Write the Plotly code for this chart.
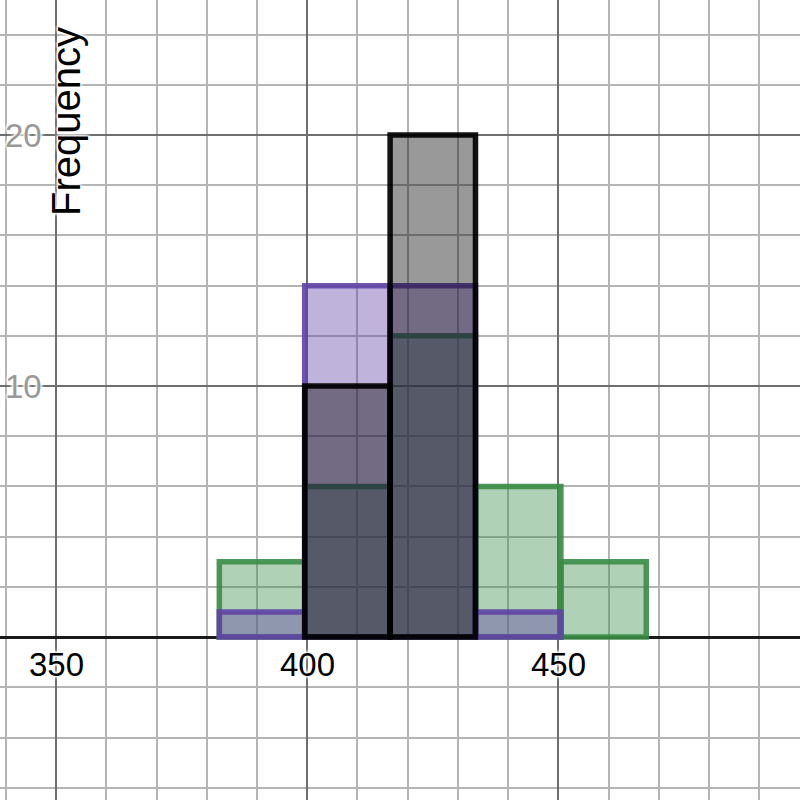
import plotly.graph_objects as go

# histogram bins (edges) shared by all three data sets
bin_edges = [382.5, 399.5, 416.5, 433.5, 450.5, 467.5]

# frequencies per bin, None = empty bin
green_counts = [3, 6, 12, 6, 3]
purple_counts = [1, 14, 14, 1, None]
black_counts = [None, 10, 20, None, None]

x_tick_vals = [350, 400, 450]
x_tick_text = ["350", "400", "450"]
y_tick_vals = [10, 20]
y_tick_text = ["10", "20"]

centers = [(a + b) / 2 for a, b in zip(bin_edges[:-1], bin_edges[1:])]
widths = [b - a for a, b in zip(bin_edges[:-1], bin_edges[1:])]

series = [
    (green_counts, "rgba(56,140,70,0.4)", "rgba(56,140,70,0.9)"),
    (purple_counts, "rgba(96,66,166,0.4)", "rgba(96,66,166,0.9)"),
    (black_counts, "rgba(0,0,0,0.4)", "rgba(0,0,0,0.92)"),
]

fig = go.Figure()

for counts, fill, line in series:
    xs = [c for c, v in zip(centers, counts) if v is not None]
    ws = [w for w, v in zip(widths, counts) if v is not None]
    ys = [v for v in counts if v is not None]
    fig.add_trace(go.Bar(
        x=xs, y=ys, width=ws,
        marker=dict(color=fill, line=dict(color=line, width=5.5)),
        hoverinfo="skip",
    ))

halo = "0 0 2px white, 0 0 3px white, 0 0 3px white, 0 0 4px white, 0 0 5px white"
label_font = dict(family="Liberation Sans, Arial, sans-serif", size=33)

# x labels sit just under the x axis line, like Desmos does
for v, t in zip(x_tick_vals, x_tick_text):
    fig.add_annotation(x=v, y=0, xref="x", yref="y", text=t, showarrow=False,
                       yanchor="top", yshift=-7,
                       font=dict(**label_font, color="black", shadow=halo))

# y labels pinned to the left edge (y axis is off screen)
for v, t in zip(y_tick_vals, y_tick_text):
    fig.add_annotation(x=0.055, y=v, xref="paper", yref="y", text=t, showarrow=False,
                       xanchor="right", yanchor="middle",
                       font=dict(**label_font, color="#999999", shadow=halo))

fig.add_annotation(x=66 / 800, y=1 - 122 / 800, xref="paper", yref="paper",
                   text="Frequency", textangle=-90, showarrow=False,
                   xanchor="center", yanchor="middle",
                   font=dict(family="Liberation Sans, Arial, sans-serif", size=40,
                             color="black", shadow=halo))

fig.update_xaxes(range=[338.84, 498.1], dtick=50, tick0=0,
                 showgrid=True, gridcolor="#6e6e6e", gridwidth=1.5,
                 minor=dict(dtick=10, showgrid=True, gridcolor="#b4b4b4", gridwidth=1.5),
                 showticklabels=False, zeroline=False, showline=False, ticks="")
fig.update_yaxes(range=[-6.49, 25.38], dtick=10, tick0=0,
                 showgrid=True, gridcolor="#6e6e6e", gridwidth=1.5,
                 minor=dict(dtick=2, showgrid=True, gridcolor="#b4b4b4", gridwidth=1.5),
                 showticklabels=False, zeroline=True, zerolinecolor="#1a1a1a",
                 zerolinewidth=3, showline=False, ticks="")

fig.update_layout(width=800, height=800, margin=dict(l=0, r=0, t=0, b=0),
                  barmode="overlay", showlegend=False,
                  plot_bgcolor="white", paper_bgcolor="white")

# drop the browser's default body margin so the plot fills the window
fig.write_html("out.html", config={"displayModeBar": False},
               post_script="document.body.style.margin='0px';")
